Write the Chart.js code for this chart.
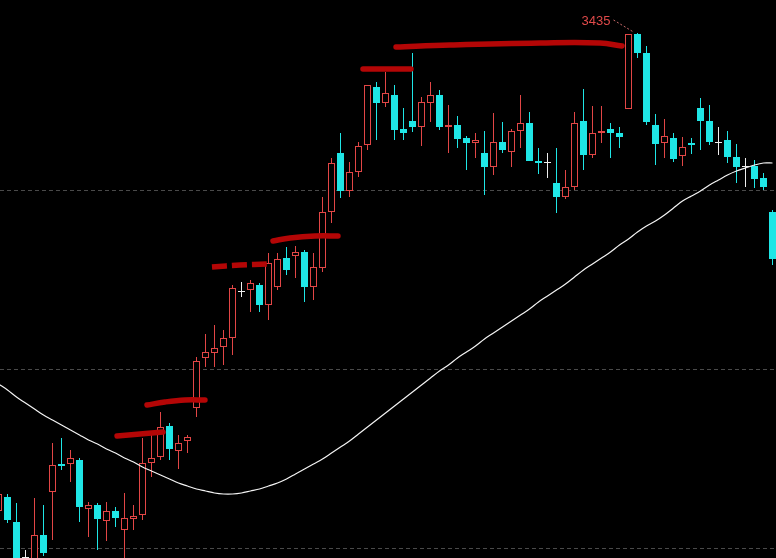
<!DOCTYPE html>
<html>
<head>
<meta charset="utf-8">
<script src="https://cdn.jsdelivr.net/npm/chart.js@4/dist/chart.umd.min.js"></script>
<style>
    html, body { margin: 0; padding: 0; background: #000; }
    #kline { display: block; }
</style>
</head>
<body>
<canvas id="kline" width="776" height="558"></canvas>
<script>
// daily candles (oldest first)
const OPEN = [
    2957, 2971, 2946, 2903, 2906, 2933, 2976, 3004, 3004, 3008,
    2959, 2963, 2947, 2957, 2938, 2949, 2953, 3005, 3011, 3042,
    3017, 3027, 3060, 3110, 3115, 3121, 3130, 3176, 3178, 3183,
    3163, 3181, 3210, 3212, 3216, 3181, 3200, 3256, 3315, 3277,
    3296, 3323, 3381, 3365, 3373, 3339, 3347, 3341, 3365, 3373,
    3341, 3343, 3330, 3325, 3315, 3301, 3326, 3316, 3337, 3345,
    3307, 3305, 3285, 3271, 3281, 3347, 3313, 3335, 3339, 3335,
    3359, 3434, 3415, 3343, 3325, 3330, 3312, 3325, 3360, 3347,
    3325, 3328, 3311, 3301, 3302, 3290, 3256
];
const HIGH = [
    2978, 2974, 2965, 2918, 2970, 2963, 3025, 3030, 3018, 3010,
    2966, 2965, 2966, 2961, 2975, 2963, 3030, 3033, 3056, 3045,
    3033, 3033, 3111, 3134, 3143, 3138, 3183, 3186, 3188, 3185,
    3215, 3215, 3221, 3222, 3218, 3215, 3271, 3310, 3335, 3306,
    3326, 3383, 3386, 3396, 3383, 3360, 3415, 3371, 3386, 3378,
    3363, 3352, 3332, 3335, 3337, 3355, 3346, 3339, 3373, 3356,
    3320, 3315, 3320, 3298, 3356, 3379, 3362, 3362, 3345, 3341,
    3434, 3435, 3422, 3354, 3349, 3335, 3331, 3330, 3370, 3363,
    3341, 3337, 3324, 3310, 3308, 3295, 3258
];
const LOW = [
    2953, 2945, 2900, 2898, 2902, 2912, 2928, 2998, 2986, 2946,
    2931, 2918, 2927, 2941, 2903, 2938, 2948, 2991, 3008, 3008,
    2999, 3015, 3051, 3101, 3101, 3103, 3113, 3171, 3156, 3156,
    3148, 3178, 3193, 3190, 3166, 3168, 3196, 3245, 3270, 3271,
    3291, 3318, 3328, 3361, 3328, 3328, 3336, 3322, 3346, 3338,
    3315, 3320, 3298, 3310, 3273, 3293, 3315, 3301, 3320, 3307,
    3294, 3290, 3255, 3269, 3278, 3298, 3310, 3325, 3310, 3320,
    3359, 3410, 3343, 3303, 3310, 3306, 3302, 3314, 3318, 3323,
    3313, 3305, 3285, 3281, 3280, 3278, 3203
];
const CLOSE = [
    2974, 2948, 2906, 2903, 2933, 2915, 3003, 3002, 3010, 2961,
    2963, 2949, 2957, 2950, 2950, 2952, 3005, 3010, 3041, 3019,
    3025, 3031, 3107, 3116, 3120, 3130, 3180, 3176, 3185, 3163,
    3205, 3209, 3198, 3216, 3181, 3201, 3256, 3305, 3277, 3296,
    3322, 3383, 3365, 3375, 3338, 3335, 3341, 3366, 3373, 3341,
    3343, 3329, 3325, 3328, 3301, 3326, 3318, 3337, 3345, 3307,
    3305, 3305, 3271, 3281, 3345, 3313, 3335, 3337, 3335, 3331,
    3434, 3415, 3346, 3324, 3332, 3309, 3321, 3323, 3347, 3326,
    3325, 3311, 3301, 3301, 3289, 3281, 3209
];
// the white moving average line, one value per candle
const MA = [
    3084, 3078, 3071, 3065, 3059, 3053, 3048, 3043, 3038, 3033,
    3028, 3024, 3019, 3015, 3010, 3006, 3001, 2997, 2993, 2989,
    2985, 2982, 2979, 2977, 2975, 2974, 2974, 2975, 2977, 2979,
    2982, 2985, 2989, 2994, 2999, 3004, 3009, 3015, 3021, 3027,
    3034, 3041, 3048, 3055, 3062, 3069, 3076, 3083, 3090, 3097,
    3103, 3110, 3116, 3122, 3129, 3135, 3141, 3147, 3153, 3159,
    3166, 3172, 3178, 3184, 3191, 3198, 3204, 3210, 3216, 3223,
    3229, 3236, 3242, 3247, 3253, 3260, 3267, 3272, 3277, 3283,
    3288, 3293, 3297, 3300, 3303, 3305, 3305
];
// dashed horizontal levels of the price pane
const GRID_LEVELS = [2920, 3099, 3277];
// hand-drawn red resistance strokes, [candle index, price]
const STROKE_1 = [[13.17, 3032], [15.72, 3034], [18.28, 3036]];
const STROKE_2 = [[16.5, 3063], [18.5, 3066], [20.72, 3068], [22.94, 3068]];
const STROKE_3 = [[23.72, 3201], [26.83, 3203], [29.94, 3204]];
const STROKE_4 = [[30.5, 3227], [32.39, 3230], [35.17, 3232], [37.72, 3232]];
const STROKE_5 = [[40.5, 3399], [45.83, 3399]];
const STROKE_6 = [[44.17, 3421], [50.17, 3423], [60.17, 3425], [66.83, 3425], [69.28, 3422]];

const PRICE_MIN = 2910;
const PRICE_MAX = 3468;

(function () {
    const UP = '#e24646';
    const DOWN = '#1fe6e6';
    const FLAT = '#eeeeee';
    const INK = '#b40606';

    const idx = OPEN.map((_, i) => i);

    function tone(i) {
        if (CLOSE[i] > OPEN[i]) return UP;
        if (CLOSE[i] < OPEN[i]) return DOWN;
        return FLAT;
    }

    function stroke(points, dash) {
        return {
            type: 'line',
            data: points.map(([x, y]) => ({ x, y })),
            borderColor: INK,
            borderWidth: 5.5,
            borderCapStyle: dash ? 'butt' : 'round',
            borderJoinStyle: 'round',
            borderDash: dash || [],
            tension: 0.4,
            pointRadius: 0,
            order: 1
        };
    }

    // "3435" tag with a dotted leader at the highest high
    const peakLabel = {
        id: 'peakLabel',
        afterDatasetsDraw(chart) {
            const { ctx, scales: { x, y } } = chart;
            let top = 0;
            HIGH.forEach((h, i) => { if (h > HIGH[top]) top = i; });
            const px = x.getPixelForValue(top);
            const py = y.getPixelForValue(HIGH[top]);
            ctx.save();
            ctx.strokeStyle = '#c86a6a';
            ctx.lineWidth = 1;
            ctx.setLineDash([2, 2]);
            ctx.beginPath();
            ctx.moveTo(px - 24, py - 13);
            ctx.lineTo(px - 4, py - 1);
            ctx.stroke();
            ctx.setLineDash([]);
            ctx.fillStyle = '#e04a4a';
            ctx.font = '13px "Liberation Sans", Arial, sans-serif';
            ctx.textAlign = 'right';
            ctx.textBaseline = 'middle';
            ctx.fillText(String(HIGH[top]), px - 27, py - 12);
            ctx.restore();
        }
    };

    new Chart(document.getElementById('kline'), {
        data: {
            datasets: [
                stroke(STROKE_1),
                stroke(STROKE_2),
                stroke(STROKE_3, [15, 5]),
                stroke(STROKE_4),
                stroke(STROKE_5),
                stroke(STROKE_6),
                {
                    type: 'line',
                    label: 'MA',
                    data: idx.map((i) => ({ x: i, y: MA[i] })),
                    borderColor: '#f4f4f4',
                    borderWidth: 1.2,
                    tension: 0.3,
                    pointRadius: 0,
                    order: 2
                },
                {
                    type: 'bar',
                    label: 'body',
                    data: idx.map((i) => ({ x: i, y: [OPEN[i], CLOSE[i]] })),
                    backgroundColor: idx.map((i) => (CLOSE[i] > OPEN[i] ? '#000000' : tone(i))),
                    borderColor: idx.map(tone),
                    borderWidth: idx.map((i) => (CLOSE[i] > OPEN[i] ? 1 : 0)),
                    borderSkipped: false,
                    barThickness: 7,
                    minBarLength: 1,
                    inflateAmount: 0,
                    grouped: false,
                    order: 3
                },
                {
                    type: 'bar',
                    label: 'wick',
                    data: idx.map((i) => ({ x: i, y: [LOW[i], HIGH[i]] })),
                    backgroundColor: idx.map(tone),
                    borderWidth: 0,
                    borderSkipped: false,
                    barThickness: 1,
                    inflateAmount: 0,
                    grouped: false,
                    order: 4
                }
            ]
        },
        options: {
            responsive: false,
            animation: false,
            events: [],
            layout: { padding: 0 },
            plugins: {
                legend: { display: false },
                tooltip: { enabled: false }
            },
            scales: {
                x: {
                    type: 'linear',
                    display: false,
                    offset: false,
                    min: 1.5 / 9,
                    max: 1.5 / 9 + 776 / 9
                },
                y: {
                    type: 'linear',
                    min: PRICE_MIN,
                    max: PRICE_MAX,
                    afterBuildTicks: (axis) => {
                        axis.ticks = GRID_LEVELS.map((v) => ({ value: v }));
                    },
                    ticks: { display: false },
                    grid: { color: '#4a4a4a', lineWidth: 1, drawTicks: false },
                    border: { display: false, dash: [4, 3] }
                }
            }
        },
        plugins: [peakLabel]
    });
})();
</script>
</body>
</html>
